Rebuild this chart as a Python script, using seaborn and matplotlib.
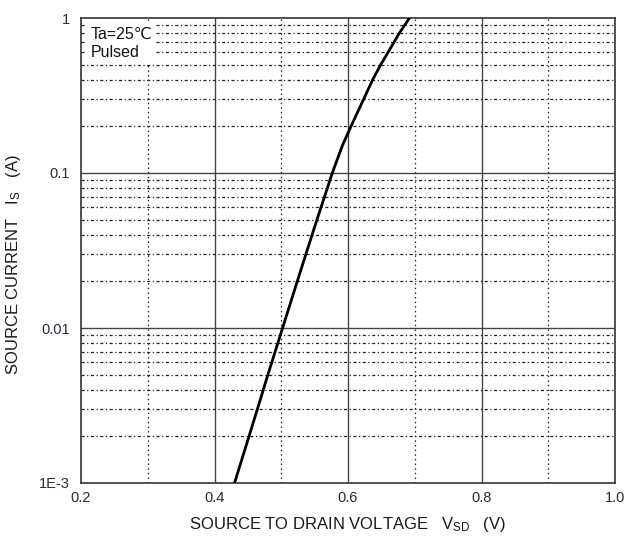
import numpy as np
import pandas as pd
import matplotlib
matplotlib.use("Agg")
import matplotlib.pyplot as plt
from matplotlib.ticker import FixedLocator, FixedFormatter
import seaborn as sns

# values
vsd = [0.430, 0.4517, 0.4643, 0.480, 0.502, 0.524, 0.537, 0.5535, 0.5765,
       0.5915, 0.6045, 0.6235, 0.637, 0.649, 0.660, 0.669, 0.677, 0.685, 0.692]
i_s = [1e-3, 2e-3, 3e-3, 5e-3, 0.01, 0.02, 0.03, 0.05, 0.1,
       0.15, 0.2, 0.3, 0.4, 0.5, 0.6, 0.7, 0.8, 0.9, 1.0]

x_major = [0.2, 0.4, 0.6, 0.8, 1.0]
x_major_labels = ["0.2", "0.4", "0.6", "0.8", "1.0"]
x_minor = [0.3, 0.5, 0.7, 0.9]
y_major = [1e-3, 1e-2, 1e-1, 1]
y_major_labels = ["1E-3", "0.01", "0.1", "1"]
y_minor = [m * d for d in [1e-3, 1e-2, 1e-1] for m in range(2, 10)]

df = pd.DataFrame({"vsd": vsd, "is": i_s})

sns.set_style("white")
plt.rcParams["font.family"] = ["Liberation Sans", "DejaVu Sans"]
plt.rcParams["mathtext.fontset"] = "custom"
plt.rcParams["mathtext.rm"] = "Liberation Sans"
plt.rcParams["mathtext.it"] = "Liberation Sans"

fig = plt.figure(figsize=(6.34, 5.37), dpi=100)
ax = fig.add_axes([81 / 634, 1 - 483 / 537, (615 - 81) / 634, (483 - 18) / 537])

ax.set_yscale("log")
ax.set_xlim(0.2, 1.0)
ax.set_ylim(1e-3, 1)

# grid
for x in x_major[1:-1]:
    ax.axvline(x, color="#444444", lw=1.0, zorder=1)
for y in y_major[1:-1]:
    ax.axhline(y, color="#444444", lw=1.0, zorder=1)
for x in x_minor:
    ax.axvline(x, color="#222222", lw=0.9, ls=(0, (1.2, 2.5)), zorder=1)
for y in y_minor:
    ax.axhline(y, color="#222222", lw=0.9, ls=(0, (2.5, 2.0, 1.0, 2.0)), zorder=1)

sns.lineplot(data=df, x="vsd", y="is", color="black", lw=2.0, ax=ax, zorder=3)

ax.xaxis.set_major_locator(FixedLocator(x_major))
ax.xaxis.set_major_formatter(FixedFormatter(x_major_labels))
ax.yaxis.set_major_locator(FixedLocator(y_major))
ax.yaxis.set_major_formatter(FixedFormatter(y_major_labels))
ax.yaxis.set_minor_locator(FixedLocator([]))
ax.tick_params(axis="both", which="both", length=0, labelsize=10.5,
               labelcolor="#2a2a3a")
ax.tick_params(axis="x", pad=6)
ax.tick_params(axis="y", pad=8)

for s in ax.spines.values():
    s.set_color("#333333")
    s.set_linewidth(1.2)

ax.set_xlabel("SOURCE TO DRAIN VOLTAGE   V$_{\\mathregular{SD}}$   (V)",
              fontsize=12, color="#1a1a1a", va="top")
ax.set_ylabel("SOURCE CURRENT   I$_{\\mathregular{S}}$   (A)",
              fontsize=12, color="#1a1a1a")
ax.xaxis.set_label_coords(0.5, -0.068)
ax.yaxis.set_label_coords(-0.108, 0.47)

ax.text(0.018, 0.980, "Ta=25\u2103\nPulsed", transform=ax.transAxes,
        ha="left", va="top", fontsize=11.5, color="#111111", linespacing=1.2,
        bbox=dict(boxstyle="square,pad=0.25", fc="white", ec="none"), zorder=4)

fig.savefig("out.png", dpi=100)
